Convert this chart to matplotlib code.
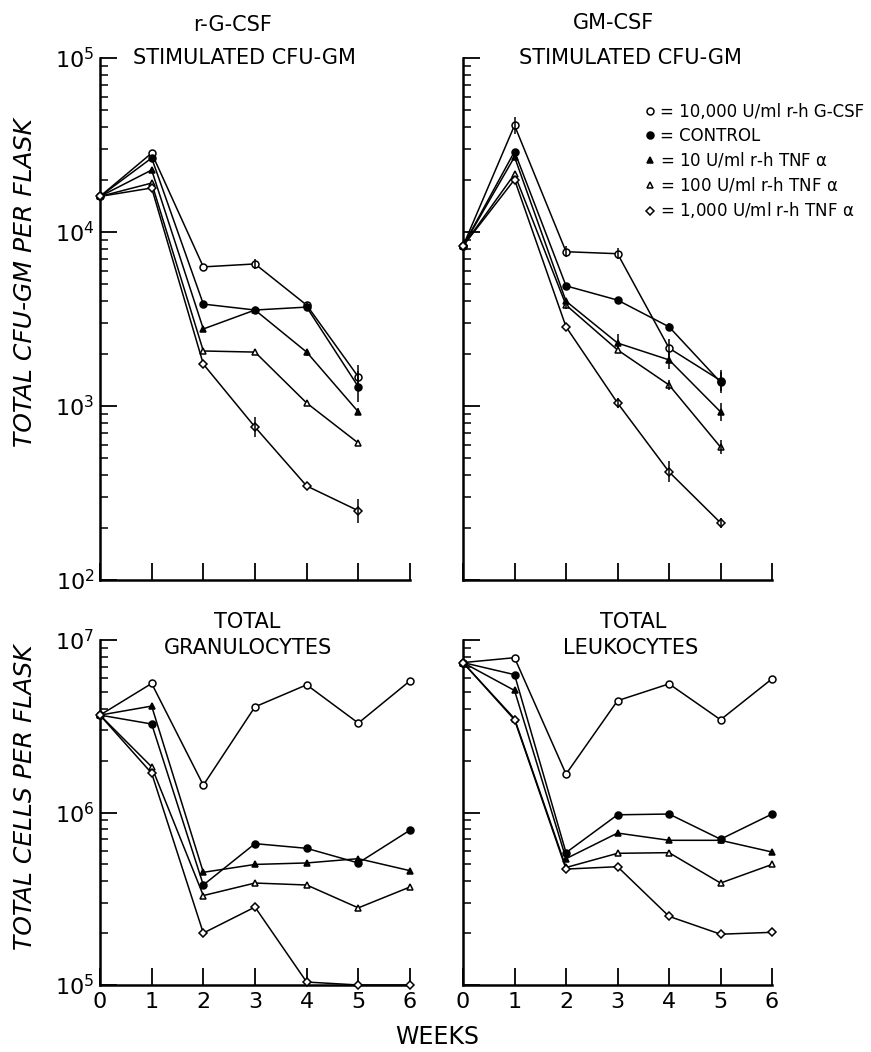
import numpy as np
import matplotlib
matplotlib.use('Agg')
import matplotlib.pyplot as plt
from matplotlib.ticker import LogLocator, NullFormatter, FixedLocator

# weeks in culture
weeks_cfu = [0, 1, 2, 3, 4, 5]
weeks_cells = [0, 1, 2, 3, 4, 5, 6]

# r-G-CSF stimulated CFU-GM per flask
gs_gcsf = [16000, 28400, 6300, 6550, 3800, 1470]
gs_control = [16000, 26600, 3850, 3560, 3700, 1290]
gs_tnf10 = [16000, 22700, 2770, 3560, 2040, 925]
gs_tnf100 = [16000, 19100, 2070, 2040, 1040, 612]
gs_tnf1000 = [16000, 17900, 1740, 757, 347, 250]

# error half-widths in decades
gs_err_gcsf = [0, 0, 0, 0.03, 0.02, 0.07]
gs_err_control = [0, 0, 0, 0.02, 0.02, 0.09]
gs_err_tnf10 = [0, 0, 0, 0.02, 0.02, 0.02]
gs_err_tnf100 = [0, 0, 0, 0, 0, 0]
gs_err_tnf1000 = [0, 0, 0, 0.06, 0, 0.07]

# GM-CSF stimulated CFU-GM per flask
gm_gcsf = [8300, 41000, 7700, 7500, 2150, 1400]
gm_control = [8300, 29000, 4900, 4060, 2850, 1370]
gm_tnf10 = [8300, 27000, 4000, 2300, 1840, 925]
gm_tnf100 = [8300, 21500, 3800, 2100, 1320, 580]
gm_tnf1000 = [8300, 20000, 2850, 1040, 418, 213]

gm_err_gcsf = [0, 0.05, 0.03, 0.03, 0.05, 0.06]
gm_err_control = [0, 0, 0, 0, 0.02, 0.06]
gm_err_tnf10 = [0, 0, 0.02, 0.05, 0.05, 0.05]
gm_err_tnf100 = [0, 0, 0.02, 0, 0.03, 0.04]
gm_err_tnf1000 = [0, 0, 0, 0.03, 0.06, 0.03]

# total granulocytes per flask
gran_gcsf = [3.67e6, 5.6e6, 1.44e6, 4.1e6, 5.5e6, 3.3e6, 5.8e6]
gran_control = [3.67e6, 3.26e6, 3.8e5, 6.6e5, 6.2e5, 5.1e5, 7.9e5]
gran_tnf10 = [3.67e6, 4.14e6, 4.5e5, 5.0e5, 5.1e5, 5.4e5, 4.6e5]
gran_tnf100 = [3.67e6, 1.84e6, 3.3e5, 3.9e5, 3.8e5, 2.8e5, 3.7e5]
gran_tnf1000 = [3.67e6, 1.69e6, 2.0e5, 2.83e5, 1.04e5, 1.0e5, 1.0e5]

# total leukocytes per flask
leuk_gcsf = [7.4e6, 7.9e6, 1.67e6, 4.45e6, 5.57e6, 3.45e6, 5.96e6]
leuk_control = [7.4e6, 6.3e6, 5.85e5, 9.7e5, 9.8e5, 7.0e5, 9.8e5]
leuk_tnf10 = [7.4e6, 5.1e6, 5.4e5, 7.6e5, 6.9e5, 6.9e5, 5.9e5]
leuk_tnf100 = [7.4e6, 3.5e6, 4.8e5, 5.8e5, 5.85e5, 3.9e5, 5.0e5]
leuk_tnf1000 = [7.4e6, 3.45e6, 4.7e5, 4.85e5, 2.5e5, 1.97e5, 2.02e5]

legend_labels = ['= 10,000 U/ml r-h G-CSF', '= CONTROL',
                 r'= 10 U/ml r-h TNF $\alpha$', r'= 100 U/ml r-h TNF $\alpha$',
                 r'= 1,000 U/ml r-h TNF $\alpha$']

# marker, face colour
styles = [('o', 'white'), ('o', 'black'), ('^', 'black'), ('^', 'white'), ('D', 'white')]

plt.rcParams['font.family'] = 'DejaVu Sans'
plt.rcParams['mathtext.default'] = 'regular'


def draw_series(ax, x, series, errs=None):
    handles = []
    for i, y in enumerate(series):
        m, fc = styles[i]
        y = np.array(y, dtype=float)
        ms = 4.5 if m == 'D' else 5
        h, = ax.plot(x, y, color='black', lw=1.1, marker=m, ms=ms,
                     mfc=fc, mec='black', mew=1.1, clip_on=False, zorder=3)
        handles.append(h)
        if errs is not None:
            d = np.array(errs[i])
            lo = y - y / 10 ** d
            hi = y * 10 ** d - y
            ax.errorbar(x, y, yerr=[lo, hi], fmt='none', ecolor='black',
                        elinewidth=1.1, capsize=0, clip_on=False, zorder=3)
    return handles


def style_axes(ax, ylim, ylabels, xlabels):
    ax.set_yscale('log')
    ax.set_ylim(*ylim)
    ax.set_xlim(0, 6)
    for s in ['top', 'right']:
        ax.spines[s].set_visible(False)
    for s in ['left', 'bottom']:
        ax.spines[s].set_linewidth(1.8)
    ax.xaxis.set_major_locator(FixedLocator(range(0, 7)))
    ax.yaxis.set_major_locator(LogLocator(base=10, numticks=10))
    ax.yaxis.set_minor_locator(LogLocator(base=10, subs=np.arange(2, 10), numticks=10))
    ax.yaxis.set_minor_formatter(NullFormatter())
    ax.tick_params(axis='both', which='major', direction='in', length=12, width=1.3,
                   labelsize=16, pad=5)
    ax.tick_params(axis='y', which='minor', direction='in', length=6, width=1.1)
    ax.tick_params(axis='y', which='major', labelsize=16, pad=4)
    if xlabels:
        ax.set_xticklabels([str(w) for w in range(0, 7)])
    else:
        ax.set_xticklabels([])
    if ylabels:
        ax.yaxis.set_major_formatter(
            plt.FuncFormatter(lambda v, p: r'$\mathregular{10^{%d}}$' % round(np.log10(v))))
    else:
        ax.set_yticklabels([])


fig = plt.figure(figsize=(8.71, 10.52), dpi=100)

ax_tl = fig.add_axes([0.1148, 0.4487, 0.3559, 0.4962])
ax_tr = fig.add_axes([0.5316, 0.4487, 0.3548, 0.4962])
ax_bl = fig.add_axes([0.1148, 0.0637, 0.3559, 0.3279])
ax_br = fig.add_axes([0.5316, 0.0637, 0.3548, 0.3279])

draw_series(ax_tl, weeks_cfu, [gs_gcsf, gs_control, gs_tnf10, gs_tnf100, gs_tnf1000],
            [gs_err_gcsf, gs_err_control, gs_err_tnf10, gs_err_tnf100, gs_err_tnf1000])
handles = draw_series(ax_tr, weeks_cfu, [gm_gcsf, gm_control, gm_tnf10, gm_tnf100, gm_tnf1000],
                      [gm_err_gcsf, gm_err_control, gm_err_tnf10, gm_err_tnf100, gm_err_tnf1000])
draw_series(ax_bl, weeks_cells, [gran_gcsf, gran_control, gran_tnf10, gran_tnf100, gran_tnf1000])
draw_series(ax_br, weeks_cells, [leuk_gcsf, leuk_control, leuk_tnf10, leuk_tnf100, leuk_tnf1000])

style_axes(ax_tl, (1e2, 1e5), True, False)
style_axes(ax_tr, (1e2, 1e5), False, False)
style_axes(ax_bl, (1e5, 1e7), True, True)
style_axes(ax_br, (1e5, 1e7), False, True)

leg = ax_tr.legend(handles, legend_labels, loc='upper left',
                   bbox_to_anchor=(0.731, 0.91), bbox_transform=fig.transFigure,
                   frameon=False, fontsize=12, handlelength=0.6, handletextpad=0.3,
                   labelspacing=0.35, borderpad=0, numpoints=1)
for h in leg.legend_handles:
    h.set_linestyle('none')

fig.text(0.2675, 0.9762, 'r-G-CSF', ha='center', va='center', fontsize=15)
fig.text(0.2801, 0.9449, 'STIMULATED CFU-GM', ha='center', va='center', fontsize=15)
fig.text(0.7038, 0.9781, 'GM-CSF', ha='center', va='center', fontsize=15)
fig.text(0.7233, 0.9449, 'STIMULATED CFU-GM', ha='center', va='center', fontsize=15)
fig.text(0.2836, 0.4087, 'TOTAL', ha='center', va='center', fontsize=15)
fig.text(0.2847, 0.3840, 'GRANULOCYTES', ha='center', va='center', fontsize=15)
fig.text(0.7268, 0.4087, 'TOTAL', ha='center', va='center', fontsize=15)
fig.text(0.7245, 0.3840, 'LEUKOCYTES', ha='center', va='center', fontsize=15)
fig.text(0.5017, 0.0143, 'WEEKS', ha='center', va='center', fontsize=17)
fig.text(0.0287, 0.731, 'TOTAL CFU-GM PER FLASK', ha='center', va='center',
         rotation=90, fontsize=18, style='italic', fontweight='light')
fig.text(0.0287, 0.2424, 'TOTAL CELLS PER FLASK', ha='center', va='center',
         rotation=90, fontsize=18, style='italic', fontweight='light')

fig.savefig('out.png', dpi=100)
